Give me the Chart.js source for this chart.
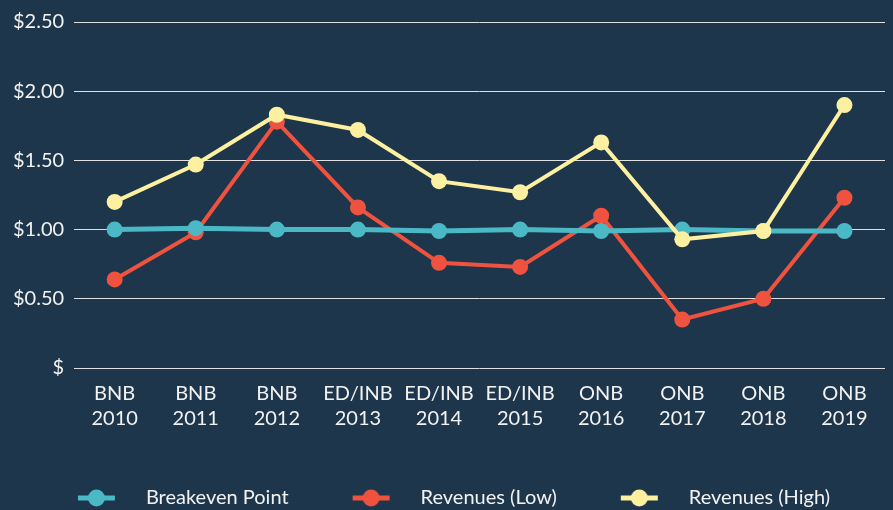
<!DOCTYPE html>
<html>
<head>
<meta charset="utf-8">
<script src="https://cdn.jsdelivr.net/npm/chart.js@4.4.1/dist/chart.umd.min.js"></script>
<style>
  html, body { margin: 0; padding: 0; background: #1d364b; }
  #wrap { width: 893px; height: 510px; }
</style>
</head>
<body>
<div id="wrap"><canvas id="chart"></canvas></div>
<script>
// --- DATA ---
const groups = ['BNB', 'BNB', 'BNB', 'ED/INB', 'ED/INB', 'ED/INB', 'ONB', 'ONB', 'ONB', 'ONB'];
const years = ['2010', '2011', '2012', '2013', '2014', '2015', '2016', '2017', '2018', '2019'];
const breakeven = [1.00, 1.01, 1.00, 1.00, 0.99, 1.00, 0.99, 1.00, 0.99, 0.99];
const revenuesLow = [0.64, 0.98, 1.78, 1.16, 0.76, 0.73, 1.10, 0.35, 0.50, 1.23];
const revenuesHigh = [1.20, 1.47, 1.83, 1.72, 1.35, 1.27, 1.63, 0.93, 0.99, 1.90];
const yTicks = [0, 0.5, 1, 1.5, 2, 2.5];

const labels = groups.map((g, i) => [g, years[i]]);

const CYAN = '#4bb9c5';
const RED = '#ef533f';
const YELLOW = '#fdf1a1';
const TEXT = '#f2f2f2';

// legend marker: a short line with a dot, blank margin on the left for spacing
function legendMarker(color) {
    const c = document.createElement('canvas');
    c.width = 70; c.height = 20;
    const g = c.getContext('2d');
    g.strokeStyle = color;
    g.lineWidth = 5;
    g.beginPath(); g.moveTo(12, 10); g.lineTo(49, 10); g.stroke();
    g.fillStyle = color;
    g.beginPath(); g.arc(30.5, 10, 8.5, 0, Math.PI * 2); g.fill();
    return c;
}

function series(label, data, color, width, order) {
    return {
        label, data, order,
        borderColor: color, backgroundColor: color,
        borderWidth: width,
        pointRadius: 8, pointHoverRadius: 8,
        pointBackgroundColor: color, pointBorderWidth: 0,
        pointStyle: 'circle',
        tension: 0, fill: false
    };
}

const markers = [legendMarker(CYAN), legendMarker(RED), legendMarker(YELLOW)];

new Chart(document.getElementById('chart'), {
    type: 'line',
    data: {
        labels,
        datasets: [
            series('Breakeven Point', breakeven, CYAN, 5, 1),
            series('Revenues (Low)', revenuesLow, RED, 4, 2),
            series('Revenues (High)', revenuesHigh, YELLOW, 4, 0)
        ]
    },
    options: {
        responsive: true,
        maintainAspectRatio: false,
        animation: false,
        layout: { padding: { top: 3.5, right: 0, left: 3, bottom: -8 } },
        scales: {
            x: {
                offset: true,
                grid: { display: false },
                border: { display: false },
                ticks: {
                    color: TEXT, padding: 5, maxRotation: 0, autoSkip: false,
                    font: { family: 'Lato', size: 20, lineHeight: 1.25 }
                }
            },
            y: {
                min: 0, max: 2.5,
                afterBuildTicks: axis => { axis.ticks = yTicks.map(v => ({ value: v })); },
                grid: { color: 'rgba(255,255,255,0.85)', lineWidth: 1, drawTicks: false },
                border: { display: false },
                ticks: {
                    color: TEXT, padding: 10,
                    font: { family: 'Lato', size: 20 },
                    callback: v => v === 0 ? '$' : '$' + Number(v).toFixed(2)
                }
            }
        },
        plugins: {
            tooltip: { enabled: false },
            legend: {
                position: 'bottom',
                labels: {
                    color: TEXT,
                    font: { family: 'Lato', size: 20 },
                    usePointStyle: true,
                    pointStyleWidth: 70,
                    padding: 52,
                    sort: (a, b) => a.datasetIndex - b.datasetIndex,
                    generateLabels: chart => chart.data.datasets.map((ds, i) => ({
                        text: ds.label,
                        fontColor: TEXT,
                        pointStyle: markers[i],
                        datasetIndex: i,
                        hidden: false,
                        lineWidth: 0
                    }))
                }
            }
        }
    }
});
</script>
</body>
</html>
